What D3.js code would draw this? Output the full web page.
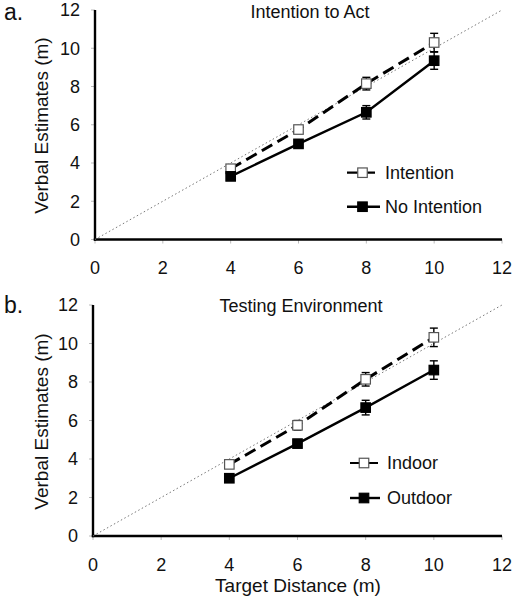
<!DOCTYPE html>
<html><head><meta charset="utf-8">
<script src="https://cdn.jsdelivr.net/npm/d3@7"></script>
<style>body{margin:0;background:#fff}svg{display:block}text{font-family:"Liberation Sans",Arial,sans-serif;fill:#111}</style>
</head><body>
<script>
const distances = [4, 6, 8, 10];
const ticks = [0, 2, 4, 6, 8, 10, 12];
const panelLetters = ["a.", "b."];
const panelTitles = ["Intention to Act", "Testing Environment"];
const seriesNamesA = ["Intention", "No Intention"];
const seriesNamesB = ["Indoor", "Outdoor"];
const intentionMean = [3.7, 5.75, 8.15, 10.3];
const intentionErr  = [0.15, 0.2, 0.33, 0.48];
const noIntentionMean = [3.3, 5.0, 6.65, 9.35];
const noIntentionErr  = [0.1, 0.2, 0.35, 0.45];
const indoorMean = [3.72, 5.75, 8.14, 10.32];
const indoorErr  = [0.12, 0.25, 0.35, 0.48];
const outdoorMean = [3.0, 4.8, 6.67, 8.62];
const outdoorErr  = [0.1, 0.2, 0.38, 0.48];

const W = 516, H = 603;
const svg = d3.select("body").append("svg").attr("width", W).attr("height", H);

const panels = [
  {letter: panelLetters[0], title: panelTitles[0], x0: 95, x1: 502, y0: 239.5, y1: 10,
   titleX: 310, titleY: 18, letterY: 20, labelY: 125.5,
   legend: {x1: 347, x2: 380, tx: 385, ys: [172.7, 206.7]},
   series: [
     {name: seriesNamesA[0], mean: intentionMean, err: intentionErr, open: true},
     {name: seriesNamesA[1], mean: noIntentionMean, err: noIntentionErr, open: false}]},
  {letter: panelLetters[1], title: panelTitles[1], x0: 93, x1: 502, y0: 536, y1: 305,
   titleX: 301, titleY: 312, letterY: 313, labelY: 421.5, xlabel: "Target Distance (m)",
   legend: {x1: 350, x2: 380, tx: 387, ys: [463, 498]},
   series: [
     {name: seriesNamesB[0], mean: indoorMean, err: indoorErr, open: true},
     {name: seriesNamesB[1], mean: outdoorMean, err: outdoorErr, open: false}]}
];

const MS = 9.5;
function marker(g, cx, cy, open) {
  g.append("rect").attr("x", cx - MS/2).attr("y", cy - MS/2).attr("width", MS).attr("height", MS)
    .attr("fill", open ? "#fff" : "#000").attr("stroke", open ? "#555" : "#000").attr("stroke-width", 1.2);
}

panels.forEach(p => {
  const x = d3.scaleLinear().domain([0, 12]).range([p.x0, p.x1]);
  const y = d3.scaleLinear().domain([0, 12]).range([p.y0, p.y1]);
  const g = svg.append("g");

  g.selectAll(".xt").data(ticks).join("line")
    .attr("x1", d => x(d)).attr("x2", d => x(d)).attr("y1", p.y0).attr("y2", p.y0 + 4)
    .attr("stroke", "#bbb").attr("stroke-width", 1);
  g.selectAll(".yt").data(ticks).join("line")
    .attr("x1", p.x0 - 4).attr("x2", p.x0).attr("y1", d => y(d)).attr("y2", d => y(d))
    .attr("stroke", "#bbb").attr("stroke-width", 1);

  g.append("line").attr("x1", x(0)).attr("x2", x(0)).attr("y1", y(12)).attr("y2", y(0) + 1.2)
    .attr("stroke", "#000").attr("stroke-width", 2.4);
  g.append("line").attr("x1", x(0) - 1.2).attr("x2", x(12)).attr("y1", y(0)).attr("y2", y(0))
    .attr("stroke", "#000").attr("stroke-width", 2.4);

  g.selectAll(".xl").data(ticks).join("text")
    .attr("x", d => x(d)).attr("y", p.y0 + 34.5).attr("text-anchor", "middle")
    .attr("font-size", 18).text(d => d);
  g.selectAll(".yl").data(ticks).join("text")
    .attr("x", p.x0 - 15).attr("y", d => y(d)).attr("dy", "0.35em").attr("text-anchor", "end")
    .attr("font-size", 18).text(d => d);

  g.append("line").attr("x1", x(0)).attr("y1", y(0)).attr("x2", x(12)).attr("y2", y(12))
    .attr("stroke", "#777").attr("stroke-width", 1).attr("stroke-dasharray", "1.5,2.5");

  p.series.forEach(s => {
    const pts = distances.map((d, i) => [x(d), y(s.mean[i])]);
    g.append("path").attr("d", d3.line()(pts)).attr("fill", "none").attr("stroke", "#000")
      .attr("stroke-width", s.open ? 3 : 2.4).attr("stroke-dasharray", s.open ? "12,6" : null);
    distances.forEach((d, i) => {
      const cx = x(d), top = y(s.mean[i] + s.err[i]), bot = y(s.mean[i] - s.err[i]);
      g.append("line").attr("x1", cx).attr("x2", cx).attr("y1", top).attr("y2", bot)
        .attr("stroke", "#000").attr("stroke-width", 1.4);
      [top, bot].forEach(yy => g.append("line").attr("x1", cx - 4).attr("x2", cx + 4)
        .attr("y1", yy).attr("y2", yy).attr("stroke", "#000").attr("stroke-width", 1.4));
      marker(g, cx, y(s.mean[i]), s.open);
    });
  });

  p.series.forEach((s, i) => {
    const ly = p.legend.ys[i];
    g.append("line").attr("x1", p.legend.x1).attr("x2", p.legend.x2).attr("y1", ly).attr("y2", ly)
      .attr("stroke", "#000").attr("stroke-width", s.open ? 2.2 : 2.4)
      .attr("stroke-dasharray", s.open ? "11,6" : null);
    marker(g, (p.legend.x1 + p.legend.x2) / 2 - 1, ly, s.open);
    g.append("text").attr("x", p.legend.tx).attr("y", ly).attr("dy", "0.35em")
      .attr("font-size", 18).text(s.name);
  });

  g.append("text").attr("x", p.titleX).attr("y", p.titleY).attr("text-anchor", "middle")
    .attr("font-size", 18).text(p.title);
  g.append("text").attr("x", 4).attr("y", p.letterY).attr("font-size", 23).text(p.letter);
  g.append("text").attr("transform", `translate(48,${p.labelY}) rotate(-90)`)
    .attr("text-anchor", "middle").attr("font-size", 19).text("Verbal Estimates (m)");
  if (p.xlabel) {
    g.append("text").attr("x", 298).attr("y", 592).attr("text-anchor", "middle")
      .attr("font-size", 19).text(p.xlabel);
  }
});
</script>
</body></html>
